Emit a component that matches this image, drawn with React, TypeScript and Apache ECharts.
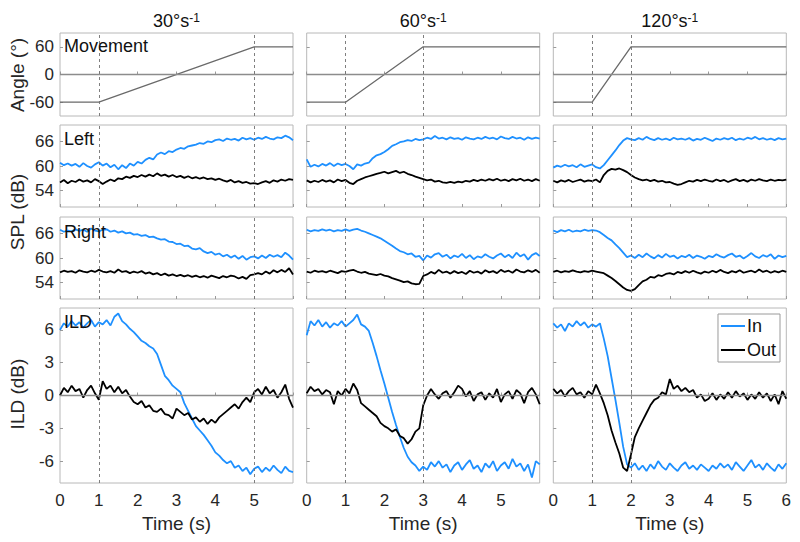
import React, { useEffect, useRef } from 'react';
import * as echarts from 'echarts';

// ---------- data ----------
const TIME = [0,0.1,0.2,0.3,0.4,0.5,0.6,0.7,0.8,0.9,1,1.1,1.2,1.3,1.4,1.5,1.6,1.7,1.8,1.9,2,2.1,2.2,2.3,2.4,2.5,2.6,2.7,2.8,2.9,3,3.1,3.2,3.3,3.4,3.5,3.6,3.7,3.8,3.9,4,4.1,4.2,4.3,4.4,4.5,4.6,4.7,4.8,4.9,5,5.1,5.2,5.3,5.4,5.5,5.6,5.7,5.8,5.9,6];

const ANGLE_T_30 = [0, 1, 5, 6];
const ANGLE_T_60 = [0, 1, 3, 6];
const ANGLE_T_120 = [0, 1, 2, 6];
const ANGLE_V = [-60, -60, 60, 60];

const SPEED_TITLES = ['30', '60', '120'];
const MOVE_END = [5, 3, 2];
const X_TICKS = [0, 1, 2, 3, 4, 5, 6];
const X_TICKS_SHORT = [0, 1, 2, 3, 4, 5];
const ANGLE_TICKS = [-60, 0, 60];
const SPL_TICKS = [54, 60, 66];
const ILD_TICKS = [-6, -3, 0, 3, 6];
const ROW_LABELS = ['Movement', 'Left', 'Right', 'ILD'];
const LEGEND_NAMES = ['In', 'Out'];

const LEFT_IN_30 = [60.8,60.2,60.6,60.1,60.5,59.8,60.7,60.0,59.6,60.4,
60.9,60.1,60.6,59.7,60.3,59.2,60.2,59.5,60.6,60.1,
61.0,60.6,61.5,62.0,61.6,62.8,63.3,62.9,63.6,63.4,
64.0,64.4,64.2,64.8,65.0,65.2,65.6,65.4,66.0,65.8,
66.3,66.5,66.1,66.7,66.4,66.6,66.2,66.9,66.5,66.8,
66.4,66.9,66.6,67.1,66.7,66.5,67.0,66.8,67.4,67.0,
66.3];
const LEFT_OUT_30 = [56.0,56.6,55.8,56.4,56.1,56.7,56.2,56.5,56.0,56.8,
56.3,55.6,56.2,56.7,56.3,57.0,56.8,57.4,57.1,57.6,
57.3,57.8,57.4,57.9,57.5,58.2,57.6,57.9,57.4,57.8,
57.3,57.6,57.1,57.5,57.0,57.3,56.9,57.2,56.8,57.0,
56.6,56.9,56.5,56.2,56.6,56.0,56.3,55.9,56.1,55.7,
55.8,55.6,56.0,56.3,55.9,56.5,56.2,56.7,56.4,56.8,
56.6];
const RIGHT_IN_30 = [66.9,66.4,66.7,66.5,67.0,66.6,66.9,66.4,67.2,66.7,
66.5,66.9,67.0,66.4,66.7,66.2,66.5,66.0,66.2,65.7,
65.8,65.4,65.6,65.1,65.2,64.8,64.5,64.6,64.0,63.9,
63.4,63.5,62.9,63.0,62.3,62.1,62.4,61.6,61.2,61.5,
60.8,61.1,60.4,60.8,60.1,60.6,59.8,60.5,59.6,60.2,
60.4,59.9,60.6,60.0,60.8,60.3,60.7,60.2,61.3,60.6,
59.6];
const RIGHT_OUT_30 = [56.5,56.9,56.6,56.8,56.4,57.0,56.7,56.5,56.9,56.6,
57.1,56.7,56.5,56.8,56.4,57.2,56.6,56.8,56.3,56.7,
56.4,56.8,56.2,56.5,56.0,56.3,55.8,56.2,55.7,56.0,
55.6,55.9,55.5,55.8,55.4,55.7,55.3,55.6,55.2,55.7,
55.4,55.1,55.6,55.3,55.7,55.5,55.0,55.4,54.9,55.8,
56.0,56.3,56.0,56.7,56.2,57.0,56.5,57.1,56.6,57.5,
56.0];
const ILD_IN_30 = [6.0,6.6,6.3,6.8,6.4,6.7,6.2,6.6,6.9,6.3,
6.7,6.5,6.9,6.4,7.2,7.5,6.8,6.5,6.1,5.8,
5.4,5.0,4.8,4.5,4.3,3.8,2.8,1.8,1.4,0.9,
0.6,0.3,-0.7,-1.4,-2.1,-2.8,-3.2,-3.6,-4.1,-4.6,
-5.2,-5.5,-5.9,-6.2,-6.0,-6.6,-6.4,-6.9,-6.6,-7.2,
-6.7,-6.5,-7.0,-6.6,-6.9,-6.4,-6.8,-7.1,-6.5,-6.9,
-7.0];
const ILD_OUT_30 = [0.0,0.7,0.3,0.9,0.4,0.6,-0.2,0.5,0.9,0.2,
-0.4,1.3,0.6,0.9,0.3,0.8,0.2,0.5,-0.1,-0.6,
-0.8,-0.5,-1.1,-0.9,-1.4,-1.5,-1.2,-1.7,-1.8,-2.1,
-1.2,-1.5,-1.8,-1.6,-2.2,-2.0,-2.4,-2.1,-2.6,-2.2,
-2.5,-2.0,-1.7,-1.4,-1.1,-0.8,-1.2,-0.6,-0.2,-0.6,
0.3,0.6,0.1,0.8,0.2,0.5,-0.2,0.3,1.0,-0.3,
-1.1];

const LEFT_IN_60 = [61.6,59.8,60.3,59.9,60.5,60.1,60.7,60.0,60.6,60.2,
60.5,60.0,59.2,60.4,60.1,60.6,60.8,61.9,62.6,62.9,
63.4,64.1,64.9,65.3,65.8,66.0,66.3,66.1,66.6,66.3,
66.5,66.9,66.6,67.3,66.7,66.9,66.5,67.0,66.6,66.8,
66.4,67.0,66.7,66.5,66.9,66.6,67.1,66.7,66.9,66.5,
67.2,66.8,66.6,67.1,66.7,66.9,66.4,67.0,66.6,66.9,
66.7];
const LEFT_OUT_60 = [56.5,56.0,56.4,56.1,56.6,56.2,56.5,56.0,56.7,56.3,
56.6,55.9,55.6,56.4,56.8,57.2,57.5,57.8,58.1,58.3,
58.6,58.2,58.5,58.8,58.3,58.6,58.1,57.8,57.4,57.1,
56.8,56.5,56.7,56.2,56.4,56.0,55.9,56.1,55.9,56.2,
56.0,56.4,56.2,56.6,56.3,56.7,56.4,56.8,56.5,56.9,
56.4,56.7,56.3,56.8,56.5,56.9,56.4,56.7,56.3,56.8,
56.4];
const RIGHT_IN_60 = [66.9,66.5,66.8,66.6,67.0,66.7,66.9,66.5,66.8,66.6,
67.0,66.6,66.9,67.1,66.7,66.4,66.0,65.6,65.2,64.8,
64.2,63.6,63.0,62.3,61.7,61.4,60.9,61.1,60.3,60.5,
59.4,60.6,60.1,60.9,61.2,60.3,60.8,59.9,60.6,60.2,
61.0,60.0,60.7,59.7,60.4,60.1,60.9,60.3,59.9,60.6,
61.1,60.2,60.8,60.0,61.3,60.4,60.9,59.6,60.7,61.2,
60.5];
const RIGHT_OUT_60 = [56.7,56.4,56.9,56.6,56.8,56.5,56.9,56.6,56.3,56.8,
56.6,56.9,57.1,56.7,56.4,56.6,56.2,56.0,55.8,56.1,
55.7,55.5,55.1,54.8,54.5,54.1,54.3,53.8,53.6,53.7,
55.6,56.0,56.6,56.2,57.1,56.4,56.7,56.2,56.8,56.3,
56.6,56.1,56.9,56.4,56.7,56.2,57.0,56.5,56.8,56.3,
57.1,56.6,56.9,56.4,57.2,56.7,56.5,57.0,56.6,57.1,
56.4];
const ILD_IN_60 = [5.5,6.8,6.4,6.9,6.3,6.7,6.2,6.6,6.4,6.8,
6.3,6.6,6.9,7.4,6.5,6.3,5.9,4.8,3.6,2.3,
1.1,-0.2,-1.5,-2.7,-3.8,-4.8,-5.6,-6.1,-6.4,-6.9,
-6.5,-6.8,-6.1,-6.5,-6.0,-6.6,-6.3,-7.0,-6.4,-6.1,
-6.8,-6.3,-5.9,-6.7,-6.4,-7.0,-6.2,-6.6,-6.0,-6.9,
-6.4,-6.1,-6.7,-5.8,-6.5,-6.2,-6.9,-6.3,-7.5,-6.0,
-6.3];
const ILD_OUT_60 = [0.2,0.8,0.4,0.6,0.1,0.5,0.3,-0.8,0.4,0.0,
0.6,0.2,1.1,0.5,-0.7,-1.0,-1.3,-1.6,-1.9,-2.5,
-2.8,-3.0,-3.3,-3.1,-3.7,-3.9,-4.4,-4.0,-3.3,-3.0,
-0.9,0.0,0.6,0.1,-0.3,0.2,0.4,-0.2,0.3,0.9,
0.6,-0.1,0.4,-0.5,0.1,0.3,-0.4,0.2,-0.2,0.6,
-0.6,0.1,0.4,-0.3,0.5,0.2,-0.7,0.3,0.7,0.1,
-0.8];

const LEFT_IN_120 = [59.6,60.1,59.8,60.3,59.9,60.2,59.7,60.4,59.8,60.1,
60.4,59.7,59.4,60.2,61.4,62.6,63.8,65.1,66.2,66.8,
66.5,66.3,66.8,66.4,67.1,66.6,66.3,66.8,66.4,66.7,
66.3,66.9,66.5,66.7,66.4,66.8,66.2,66.6,66.4,66.9,
66.5,66.1,66.7,66.4,66.8,66.5,66.9,66.3,66.7,66.4,
66.9,66.6,67.1,66.5,66.8,66.4,66.7,66.3,66.8,66.5,
66.7];
const LEFT_OUT_120 = [56.4,56.0,56.5,56.2,56.6,56.1,56.4,56.7,56.2,56.5,
56.3,56.7,56.0,57.8,58.8,59.3,59.1,59.4,59.0,58.5,
57.8,57.2,56.8,56.5,56.7,56.3,56.6,56.2,56.4,56.0,
56.1,55.7,55.4,55.6,56.0,56.4,56.2,56.6,56.3,56.7,
56.4,56.2,56.7,56.3,56.6,56.1,56.5,56.8,56.3,56.6,
56.2,56.7,56.4,56.8,56.5,56.3,56.7,56.4,56.6,56.5,
56.7];
const RIGHT_IN_120 = [66.7,66.3,66.8,66.5,66.9,66.4,66.7,66.5,66.9,66.6,
66.8,66.7,66.3,65.6,64.9,64.3,63.3,62.4,61.3,60.2,
60.6,60.0,60.8,60.2,61.1,60.4,59.9,60.7,60.1,61.0,
60.3,60.6,59.9,60.5,60.2,60.8,60.0,60.6,60.3,59.8,
60.5,60.2,60.9,60.4,60.1,60.7,61.1,60.3,60.6,59.9,
60.5,61.2,60.4,60.0,60.7,60.3,60.9,59.8,60.6,60.2,
60.5];
const RIGHT_OUT_120 = [56.6,56.9,56.5,56.8,56.6,57.0,56.7,56.5,56.8,56.6,
56.9,56.7,56.5,56.3,55.7,55.1,54.4,53.6,52.8,52.2,
52.0,52.4,53.4,54.3,54.7,55.4,55.2,55.8,55.6,56.1,
56.3,56.0,56.6,56.3,56.8,56.4,56.9,56.5,56.2,56.7,
56.4,56.9,56.5,57.1,56.6,56.3,56.8,56.5,57.0,56.4,
56.7,56.9,56.5,57.2,56.6,56.9,56.4,56.8,56.5,56.9,
56.6];
const ILD_IN_120 = [6.6,6.2,6.5,5.9,6.6,6.3,6.8,6.4,6.7,6.2,
6.5,6.3,6.6,5.2,3.6,1.6,-0.4,-2.5,-4.7,-6.3,
-6.6,-6.2,-6.8,-6.4,-6.9,-6.3,-6.7,-6.0,-6.5,-6.8,
-6.2,-6.6,-6.9,-6.4,-6.1,-6.7,-6.4,-6.8,-6.3,-6.6,
-6.9,-6.4,-6.7,-6.2,-6.6,-6.3,-6.8,-6.1,-6.5,-6.9,
-6.4,-5.9,-6.6,-6.3,-6.8,-6.2,-6.6,-6.9,-6.3,-6.7,
-6.2];
const ILD_OUT_120 = [0.6,0.2,0.5,-0.1,0.4,0.7,0.1,0.3,-0.2,0.4,
0.1,1.0,0.2,-0.7,-1.8,-3.2,-4.3,-5.3,-6.6,-6.9,
-5.4,-3.8,-3.0,-2.3,-1.6,-0.9,-0.4,-0.2,0.3,0.1,
1.5,0.6,0.9,0.4,0.7,0.3,0.5,-0.2,0.1,-0.5,
-0.3,0.2,-0.4,0.1,-0.3,0.3,-0.2,0.4,-0.1,0.2,
-0.4,0.1,-0.3,0.3,-0.2,0.2,-0.5,0.1,-0.8,0.4,
-0.3];

// ---------- layout / style ----------
const FONT = '"Liberation Sans", Arial, Helvetica, sans-serif';
const BLUE = '#1e90ff';
const BLACK = '#000000';
const COL_LEFT = [60, 306.7, 553.3];
const COL_W = 233;
const ROW_TOP = [33, 125, 217, 308];
const ROW_H = [83, 82, 82, 175];
const ROW_RANGE: [number, number][] = [[-90, 90], [50, 70], [50, 70], [-8, 8]];
const ROW_TICKS = [ANGLE_TICKS, SPL_TICKS, SPL_TICKS, ILD_TICKS];

const ANGLE_T = [ANGLE_T_30, ANGLE_T_60, ANGLE_T_120];
const SPL_L = [[LEFT_IN_30, LEFT_OUT_30], [LEFT_IN_60, LEFT_OUT_60], [LEFT_IN_120, LEFT_OUT_120]];
const SPL_R = [[RIGHT_IN_30, RIGHT_OUT_30], [RIGHT_IN_60, RIGHT_OUT_60], [RIGHT_IN_120, RIGHT_OUT_120]];
const ILD = [[ILD_IN_30, ILD_OUT_30], [ILD_IN_60, ILD_OUT_60], [ILD_IN_120, ILD_OUT_120]];

const pairs = (vals: number[]) => TIME.map((t, i) => [t, vals[i]]);

function markLines(end: number, zero: boolean) {
  const dash = { type: [3, 3], color: '#707070', width: 0.9 };
  const data: any[] = [
    { xAxis: 1, lineStyle: dash },
    { xAxis: end, lineStyle: dash },
  ];
  if (zero) data.push({ yAxis: 0, lineStyle: { type: 'solid', color: '#8c8c8c', width: 1.4 } });
  return {
    silent: true,
    symbol: ['none', 'none'],
    label: { show: false },
    animation: false,
    data,
  };
}

function buildOption() {
  const grid: any[] = [];
  const xAxis: any[] = [];
  const yAxis: any[] = [];
  const series: any[] = [];
  for (let r = 0; r < 4; r++) {
    for (let c = 0; c < 3; c++) {
      const gi = r * 3 + c;
      grid.push({
        left: COL_LEFT[c], top: ROW_TOP[r], width: COL_W, height: ROW_H[r],
        show: true, borderColor: '#b8b8b8', borderWidth: 1, backgroundColor: 'transparent',
      });
      xAxis.push({
        type: 'value', gridIndex: gi, min: 0, max: 6, interval: 1,
        axisLine: { show: false },
        axisTick: { show: true, inside: true, length: 3, lineStyle: { color: '#9a9a9a' } },
        splitLine: { show: false },
        axisLabel: {
          show: r === 3, fontSize: 17, color: '#262626', fontFamily: FONT, margin: 9,
          customValues: c === 2 ? X_TICKS : X_TICKS_SHORT,
        },
        name: r === 3 ? 'Time (s)' : '',
        nameLocation: 'middle', nameGap: 31,
        nameTextStyle: { fontSize: 19, color: '#262626', fontFamily: FONT },
      });
      yAxis.push({
        type: 'value', gridIndex: gi, min: ROW_RANGE[r][0], max: ROW_RANGE[r][1],
        axisLine: { show: false },
        axisTick: { show: true, inside: true, length: 3, customValues: ROW_TICKS[r], lineStyle: { color: '#9a9a9a' } },
        splitLine: { show: false },
        axisLabel: {
          show: c === 0, customValues: ROW_TICKS[r], fontSize: 17, color: '#262626',
          fontFamily: FONT, margin: 6,
        },
      });
      if (r === 0) {
        series.push({
          type: 'line', xAxisIndex: gi, yAxisIndex: gi, symbol: 'none', silent: true,
          data: ANGLE_T[c].map((t, i) => [t, ANGLE_V[i]]),
          lineStyle: { color: '#6a6a6a', width: 1.3 }, itemStyle: { color: '#6a6a6a' },
          markLine: markLines(MOVE_END[c], true),
        });
      } else {
        const src = r === 1 ? SPL_L[c] : r === 2 ? SPL_R[c] : ILD[c];
        series.push({
          name: LEGEND_NAMES[0], type: 'line', xAxisIndex: gi, yAxisIndex: gi, symbol: 'none',
          data: pairs(src[0]), lineStyle: { color: BLUE, width: 1.8 }, itemStyle: { color: BLUE },
          markLine: markLines(MOVE_END[c], r === 3), silent: true,
        });
        series.push({
          name: LEGEND_NAMES[1], type: 'line', xAxisIndex: gi, yAxisIndex: gi, symbol: 'none',
          data: pairs(src[1]), lineStyle: { color: BLACK, width: 1.8 }, itemStyle: { color: BLACK },
          silent: true,
        });
      }
    }
  }

  const graphic: any[] = [];
  SPEED_TITLES.forEach((s, c) => {
    graphic.push({
      type: 'text', x: COL_LEFT[c] + COL_W / 2, y: 21,
      style: {
        text: `{a|${s}°s}{b|-1}`,
        textAlign: 'center', textVerticalAlign: 'middle',
        rich: {
          a: { fontSize: 18, fontFamily: FONT, fill: '#111' },
          b: { fontSize: 12, fontFamily: FONT, fill: '#111', verticalAlign: 'top' },
        },
      },
    });
  });
  const labelY = [46, 139, 232, 322];
  ROW_LABELS.forEach((t, r) => {
    graphic.push({
      type: 'text', x: 64, y: labelY[r], z: 10,
      style: { text: t, textAlign: 'left', textVerticalAlign: 'middle', fontSize: 18, fontFamily: FONT, fill: '#111' },
    });
  });
  const yNames: [string, number][] = [['Angle (°)', 75], ['SPL (dB)', 212], ['ILD (dB)', 394]];
  yNames.forEach(([t, y]) => {
    graphic.push({
      type: 'text', x: 17, y, rotation: Math.PI / 2,
      style: { text: t, textAlign: 'center', textVerticalAlign: 'middle', fontSize: 19, fontFamily: FONT, fill: '#262626' },
    });
  });

  return {
    animation: false,
    backgroundColor: '#ffffff',
    textStyle: { fontFamily: FONT },
    grid, xAxis, yAxis, series, graphic,
    legend: {
      data: LEGEND_NAMES,
      icon: 'rect',
      orient: 'vertical', right: 20, top: 314,
      itemWidth: 24, itemHeight: 2, itemGap: 6,
      padding: [3, 4, 3, 3],
      borderColor: '#9a9a9a', borderWidth: 1, backgroundColor: '#ffffff',
      textStyle: { fontSize: 18, color: '#111', fontFamily: FONT, padding: [0, 0, 0, -3] },
      selectedMode: false,
    },
  };
}

export default function App() {
  const ref = useRef<HTMLDivElement>(null);
  useEffect(() => {
    if (!ref.current) return;
    const chart = echarts.init(ref.current, null, { renderer: 'svg' });
    chart.setOption(buildOption() as any);
    return () => chart.dispose();
  }, []);
  return (
    <div
      ref={ref}
      style={{ position: 'fixed', left: 0, top: 0, width: 800, height: 542, background: '#fff' }}
    />
  );
}
